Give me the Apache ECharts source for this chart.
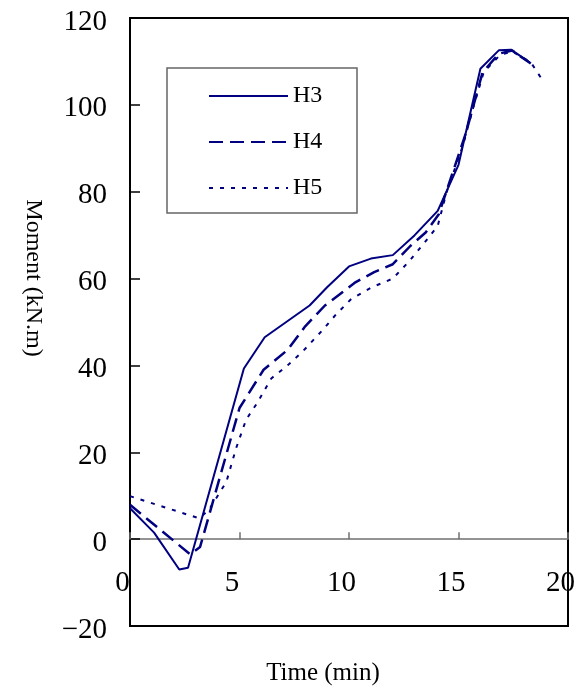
<!DOCTYPE html>
<html>
<head>
<meta charset="utf-8">
<title>Moment vs Time</title>
<script src="https://cdn.jsdelivr.net/npm/echarts@6/dist/echarts.min.js"></script>
<style>
  html, body { margin: 0; padding: 0; background: #fff; }
  #chart { width: 586px; height: 690px; }
</style>
</head>
<body>
<div id="chart"></div>
<script>
// Moment history at three gauge positions
const seriesNames = ['H3', 'H4', 'H5'];

const h3Time   = [0, 1.1, 2.25, 2.65, 5.2, 6.15, 8.2, 9.0, 10.0, 11.0, 12.0, 13.0, 14.05, 15.0, 16.0, 16.85, 17.4, 18.25];
const h3Moment = [7.1, 1.5, -7.0, -6.6, 39.3, 46.5, 53.8, 58.0, 62.8, 64.6, 65.4, 70.0, 75.6, 86.2, 108.3, 112.6, 112.7, 109.8];

const h4Time   = [0, 2.75, 3.2, 5.0, 6.1, 7.2, 8.0, 8.9, 10.25, 11.15, 12.0, 12.8, 13.5, 14.1, 15.35, 16.1, 16.85, 17.45, 18.3];
const h4Moment = [7.9, -3.5, -1.8, 30.2, 39.0, 43.6, 49.0, 53.8, 59.0, 61.5, 63.3, 67.5, 70.6, 74.8, 93.7, 107.5, 111.8, 112.5, 109.5];

const h5Time   = [0, 3.15, 3.6, 4.4, 4.85, 5.3, 5.8, 6.45, 7.15, 7.9, 8.75, 9.4, 10.1, 11.0, 12.0, 12.75, 13.45, 14.05, 14.45, 15.2, 15.65, 16.15, 16.9, 17.45, 18.3, 18.9];
const h5Moment = [9.9, 4.8, 6.7, 13.2, 21.0, 27.5, 31.3, 37.0, 39.8, 43.3, 47.9, 51.7, 55.3, 57.9, 60.0, 64.0, 68.3, 72.1, 79.8, 90.6, 99.0, 107.5, 111.5, 112.3, 109.8, 105.2];

const xTicks = [0, 5, 10, 15, 20];
const yTicks = [-20, 0, 20, 40, 60, 80, 100, 120];

const xTitle = 'Time (min)';
const yTitle = 'Moment (kN.m)';

const pairs = (xs, ys) => xs.map((x, i) => [x, ys[i]]);

const serif = '"Liberation Serif", "DejaVu Serif", serif';
const ink = '#000080';

// plot box in pixels
const gridLeft = 130, gridTop = 18, gridWidth = 438, gridHeight = 608;
const yMin = yTicks[0], yMax = yTicks[yTicks.length - 1];
// the time axis runs along moment = 0, lifted up from the bottom edge
const zeroLift = gridHeight * (0 - yMin) / (yMax - yMin);

const chart = echarts.init(document.getElementById('chart'), null, { renderer: 'canvas' });

const lineStyles = [
  { color: ink, width: 2, type: 'solid' },
  { color: ink, width: 2.5, type: [14, 7] },
  { color: ink, width: 2, type: [4, 7] }
];
const seriesData = [pairs(h3Time, h3Moment), pairs(h4Time, h4Moment), pairs(h5Time, h5Moment)];

chart.setOption({
  animation: false,
  backgroundColor: '#fff',
  grid: {
    left: gridLeft, top: gridTop, width: gridWidth, height: gridHeight,
    show: true, borderColor: '#000', borderWidth: 2, backgroundColor: 'transparent'
  },
  xAxis: {
    type: 'value',
    position: 'bottom',
    offset: -zeroLift,
    min: xTicks[0], max: xTicks[xTicks.length - 1], interval: 5,
    axisLine: { onZero: false, lineStyle: { color: '#707070', width: 1.5 } },
    axisTick: { inside: true, length: 7, lineStyle: { color: '#707070', width: 1.5 } },
    splitLine: { show: false },
    axisLabel: {
      margin: 30, color: '#000', fontFamily: serif, fontSize: 29,
      padding: [0, 15, 0, 0], showMinLabel: true, showMaxLabel: true
    }
  },
  yAxis: {
    type: 'value',
    min: yMin, max: yMax, interval: 20,
    axisLine: { onZero: false, lineStyle: { color: '#000', width: 2 } },
    axisTick: { inside: true, length: 10, lineStyle: { color: '#000', width: 1.5 } },
    splitLine: { show: false },
    axisLabel: {
      margin: 23, color: '#000', fontFamily: serif, fontSize: 29,
      verticalAlign: 'top', lineHeight: 8,
      formatter: v => (v < 0 ? '\u2212' + Math.abs(v) : String(v))
    }
  },
  legend: {
    orient: 'vertical',
    left: 208, top: 84, padding: 0,
    itemWidth: 79, itemHeight: 24, itemGap: 22,
    selectedMode: false,
    data: seriesNames,
    itemStyle: { opacity: 0 },
    textStyle: { color: '#000', fontFamily: serif, fontSize: 24, lineHeight: 24 }
  },
  graphic: [
    {
      type: 'rect', z: 1,
      shape: { x: 167, y: 68, width: 190, height: 145 },
      style: { fill: '#fff', stroke: '#666', lineWidth: 1.5 }
    },
    {
      type: 'text', z: 5,
      x: 33, y: 278, rotation: -Math.PI / 2,
      style: { text: yTitle, fill: '#000', font: '24px ' + serif, align: 'center', verticalAlign: 'middle' }
    },
    {
      type: 'text', z: 5,
      x: 323, y: 673,
      style: { text: xTitle, fill: '#000', font: '25px ' + serif, align: 'center', verticalAlign: 'middle' }
    }
  ],
  series: seriesNames.map((name, i) => ({
    name,
    type: 'line',
    data: seriesData[i],
    symbol: 'none',
    z: 2,
    lineStyle: lineStyles[i],
    itemStyle: { color: ink }
  }))
});
</script>
</body>
</html>
